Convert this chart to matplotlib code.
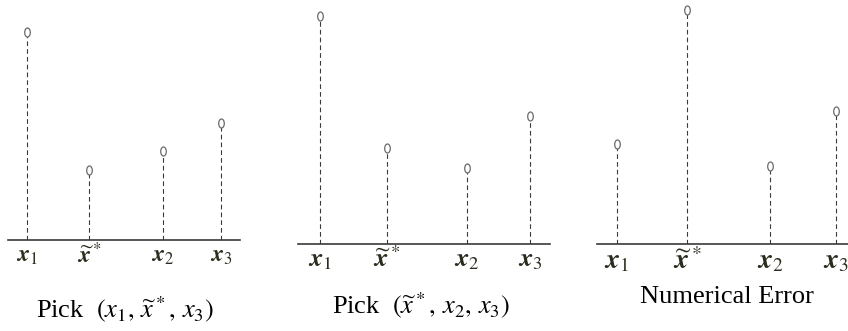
import matplotlib
matplotlib.use("Agg")
import matplotlib.pyplot as plt
from matplotlib.path import Path
from matplotlib.transforms import Affine2D

plt.rcParams['mathtext.fontset'] = 'stix'

# stem positions along each axis and their labels
positions = [0.0, 0.32, 0.70, 1.0]
labels = [r'$\mathbfit{x}_1$', r'$\widetilde{\mathbfit{x}}^*$',
          r'$\mathbfit{x}_2$', r'$\mathbfit{x}_3$']

# stem heights for the three panels
pick_a = [208, 70, 89, 117]
pick_b = [228, 96, 76, 128]
num_err = [100, 234, 78, 133]

captions = [r'Pick  $(x_1,\,\widetilde{x}^*,\,x_3)$',
            r'Pick  $(\widetilde{x}^*,\,x_2,\,x_3)$',
            'Numerical Error']

W, H = 848, 331
fig = plt.figure(figsize=(W / 100, H / 100), dpi=100)

# small upright ellipse used as the stem head
oval = Path.unit_circle().transformed(Affine2D().scale(0.62, 1.0))

# (left, baseline, width, height) in pixels, x-limits, caption centre, label size
panels = [
    (pick_a, (8, 240, 232, 240), (-0.098, 1.098), (125, 309), 17),
    (pick_b, (298, 244, 252, 244), (-0.105, 1.095), (421, 305), 19),
    (num_err, (597, 244, 251, 244), (-0.091, 1.055), (727, 297), 20),
]

for (vals, (l, base, w, h), xl, cap, lsize), text in zip(panels, captions):
    ax = fig.add_axes([l / W, (H - base) / H, w / W, h / H])
    ax.vlines(positions, 0, vals, colors='#3a3a3a', linewidth=0.8,
              linestyles=(0, (4.2, 2.8)))
    ax.plot(positions, vals, linestyle='none', marker=oval, markersize=6.5,
            markerfacecolor='white', markeredgecolor='#6a6a6a',
            markeredgewidth=0.9, clip_on=False, zorder=3)
    ax.set_xlim(*xl)
    ax.set_ylim(0, h)
    for side in ('top', 'right', 'left'):
        ax.spines[side].set_visible(False)
    ax.spines['bottom'].set_color('#3a3a3a')
    ax.spines['bottom'].set_linewidth(1.2)
    ax.set_yticks([])
    ax.set_xticks(positions, labels)
    ax.tick_params(axis='x', length=0, pad=2, labelsize=lsize,
                   labelcolor='#2b2b1e')
    fig.text(cap[0] / W, 1 - cap[1] / H, text, ha='center', va='center',
             fontsize=19, family='Liberation Serif', color='black')

fig.savefig('out.png', dpi=100)
